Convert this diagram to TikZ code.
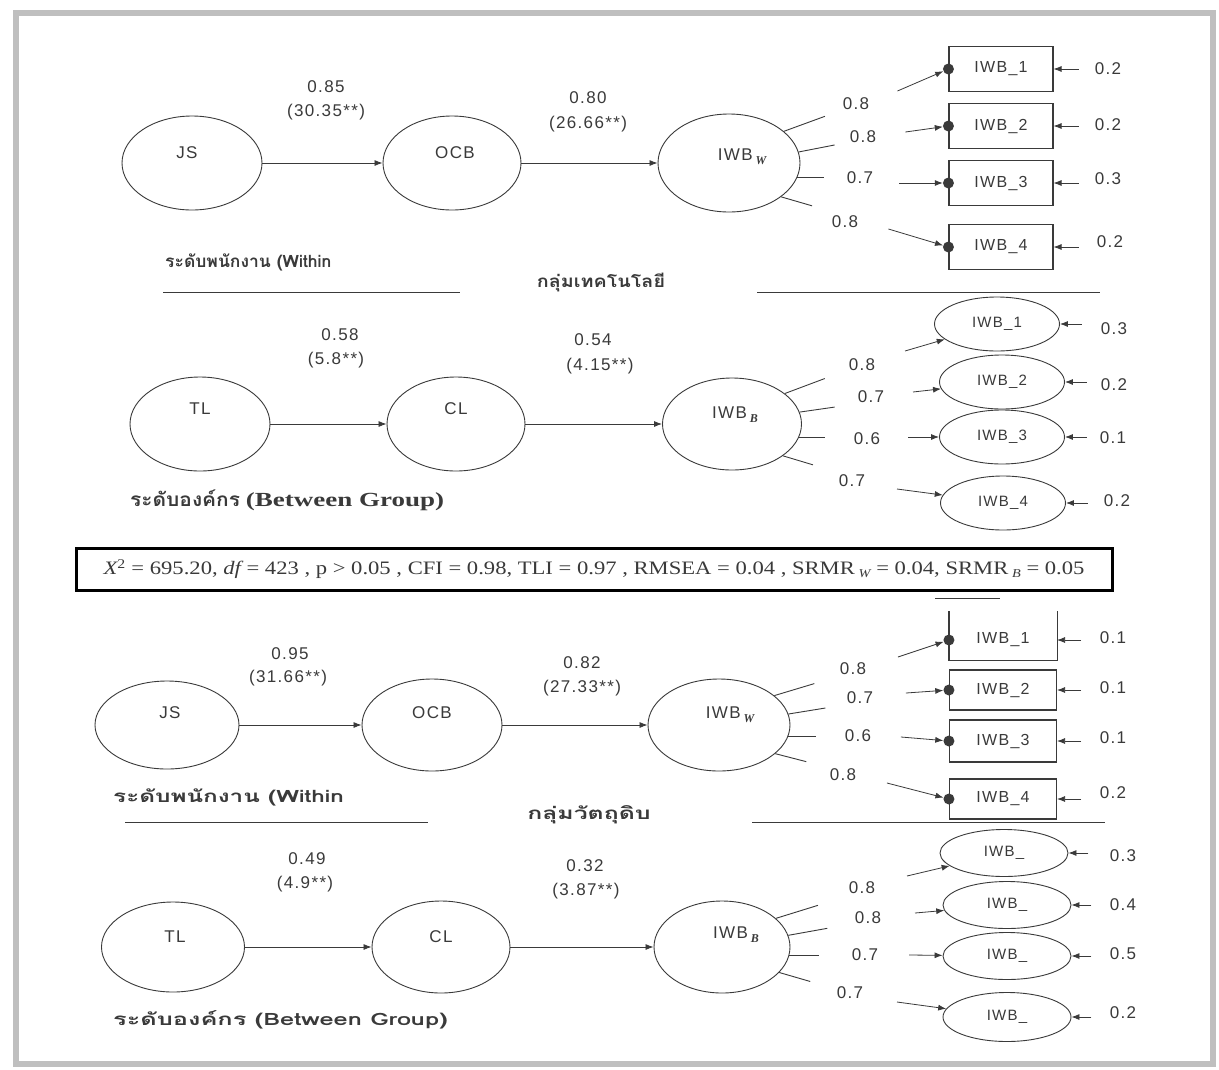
\documentclass[tikz,border=0pt]{standalone}
\usepackage{fontspec}
\setmainfont{Liberation Sans}
\newfontfamily\numf[LetterSpace=8]{Liberation Sans}
\newfontfamily\thai[Script=Thai]{Loma}
\newfontfamily\tnr{Liberation Serif}
\usetikzlibrary{shapes.geometric,arrows.meta}
\definecolor{ink}{HTML}{3A3A3A}
\newcommand{\subW}{\,\raisebox{-4pt}{\tnr\bfseries\itshape\fontsize{12}{12}\selectfont W}}
\newcommand{\subB}{\,\raisebox{-4pt}{\tnr\bfseries\itshape\fontsize{12}{12}\selectfont B}}
\begin{document}
\begin{tikzpicture}[x=1pt,y=-1pt,
  lat/.style={draw=ink, ellipse, line width=0.9pt, inner sep=0pt},
  ind/.style={draw=ink, rectangle, line width=1.1pt, minimum width=104pt, minimum height=45pt, inner sep=0pt, font=\numf\fontsize{16}{17}\selectfont, text=ink},
  oind/.style={draw=ink, ellipse, line width=0.9pt, inner sep=0pt, font=\numf\fontsize{15}{16}\selectfont, text=ink},
  dotn/.style={circle, fill=ink, minimum size=11pt, inner sep=0pt},
  arr/.style={draw=ink, -{Latex[length=8pt,width=6pt]}, line width=0.8pt},
  ln/.style={draw=ink, line width=0.9pt},
  num/.style={font=\numf\fontsize{17}{19}\selectfont, text=ink, inner sep=0pt},
  thl/.style={font=\thai\bfseries\fontsize{17}{19}\selectfont, text=ink, inner sep=0pt, anchor=west},
  grp/.style={font=\thai\bfseries\fontsize{17}{19}\selectfont, text=ink, inner sep=0pt}
]
\useasboundingbox (0,0) rectangle (1219,1069);
\fill[white] (0,0) rectangle (1219,1069);
\draw[gray!50, line width=6pt] (16,13) rectangle (1213,1064);

% ================= Panel 1 =================
\node[lat, minimum width=140pt, minimum height=94pt] (js1) at (192,163) {};
\node[lat, minimum width=138pt, minimum height=94pt] (ocb1) at (452,163) {};
\node[lat, minimum width=142pt, minimum height=98pt] (iw1) at (729,163) {};
\node[num] (tjs1) at (187,153) {JS};
\node[num] (tocb1) at (455,153) {OCB};
\node[num] (tiw1) at (742,157) {IWB\subW};
\draw[arr] (js1) -- (ocb1);
\draw[arr] (ocb1) -- (iw1);
\node[num] (p11a) at (326,87) {0.85};
\node[num] (p11b) at (326,112) {(30.35**)};
\node[num] (p12a) at (588,98) {0.80};
\node[num] (p12b) at (588,124) {(26.66**)};
\node[ind] (b11) at (1001,69) {IWB\_1};
\node[ind] (b12) at (1001,126) {IWB\_2};
\node[ind] (b13) at (1001,183) {IWB\_3};
\node[ind] (b14) at (1001,247) {IWB\_4};
\foreach \b in {1,2,3,4}{\node[dotn] (d1\b) at (b1\b.west) {};}
\draw[ln] (iw1.30) -- ++(41,-15);
\draw[ln] (iw1.9) -- ++(36,-7);
\draw[ln] (iw1.-12) -- ++(27,0);
\draw[ln] (iw1.-33) -- ++(31,9);
\node[num] (l11) at (856,104) {0.8};
\node[num] (l12) at (863,137) {0.8};
\node[num] (l13) at (860,178) {0.7};
\node[num] (l14) at (845,222) {0.8};
\draw[arr] (d11) ++(-51,22) -- (d11);
\draw[arr] (d12) ++(-43,6) -- (d12);
\draw[arr] (d13) ++(-49,0) -- (d13);
\draw[arr] (d14) ++(-60,-18) -- (d14);
\foreach \b in {1,2,3,4}{\draw[arr] (b1\b.east) ++(25,0) -- (b1\b.east);}
\node[num] (e11) at (1108,69) {0.2};
\node[num] (e12) at (1108,125) {0.2};
\node[num] (e13) at (1108,179) {0.3};
\node[num] (e14) at (1110,242) {0.2};
\node[thl] (w1) at (165,262) {\scalebox{1.03}[1]{ระดับพนักงาน (Within}};
\node[grp] (g1) at (601,283) {\scalebox{1.16}[1]{กลุ่มเทคโนโลยี}};
\draw[ln] (163,292) -- (460,292);
\draw[ln] (757,292) -- (1100,292);

% ================= Panel 2 =================
\node[lat, minimum width=140pt, minimum height=94pt] (tl2) at (200,424) {};
\node[lat, minimum width=138pt, minimum height=94pt] (cl2) at (456,424) {};
\node[lat, minimum width=139pt, minimum height=92pt] (iw2) at (732,424) {};
\node[num] (ttl2) at (200,409) {TL};
\node[num] (tcl2) at (456,409) {CL};
\node[num] (tiw2) at (735,415) {IWB\subB};
\draw[arr] (tl2) -- (cl2);
\draw[arr] (cl2) -- (iw2);
\node[num] (p21a) at (340,335) {0.58};
\node[num] (p21b) at (336,360) {(5.8**)};
\node[num] (p22a) at (593,340) {0.54};
\node[num] (p22b) at (600,366) {(4.15**)};
\node[oind, minimum width=125pt, minimum height=54pt] (o21) at (997,324) {IWB\_1};
\node[oind, minimum width=125pt, minimum height=54pt] (o22) at (1002,382) {IWB\_2};
\node[oind, minimum width=125pt, minimum height=54pt] (o23) at (1002,437) {IWB\_3};
\node[oind, minimum width=125pt, minimum height=54pt] (o24) at (1003,503) {IWB\_4};
\draw[ln] (iw2.30) -- ++(40,-15);
\draw[ln] (iw2.10) -- ++(35,-5);
\draw[ln] (iw2.-11) -- ++(26,0);
\draw[ln] (iw2.-32) -- ++(30,9);
\node[num] (l21) at (862,365) {0.8};
\node[num] (l22) at (871,397) {0.7};
\node[num] (l23) at (867,439) {0.6};
\node[num] (l24) at (852,481) {0.7};
\draw[arr] (o21) ++(-92,27) -- (o21);
\draw[arr] (o22) ++(-89,10) -- (o22);
\draw[arr] (o23) ++(-94,0) -- (o23);
\draw[arr] (o24) ++(-106,-14) -- (o24);
\foreach \b in {1,2,3,4}{\draw[arr] (o2\b.east) ++(22,0) -- (o2\b.east);}
\node[num] (e21) at (1114,329) {0.3};
\node[num] (e22) at (1114,385) {0.2};
\node[num] (e23) at (1113,438) {0.1};
\node[num] (e24) at (1117,501) {0.2};
\node[thl] (bg2) at (130,500) {\scalebox{1.1}[1]{\fontsize{19}{21}\selectfont ระดับองค์กร} \scalebox{1.35}[1]{\tnr\bfseries\fontsize{20}{22}\selectfont (Between Group)}};

% ================= Fit box =================
\node[draw=black, line width=3pt, minimum width=1036pt, minimum height=42pt, inner sep=0pt] (fit) at (594,569) {};
\node[font=\tnr\fontsize{19}{21}\selectfont, text=ink, inner sep=0pt] (fitt) at (fit) {\scalebox{1.19}[1]{{\itshape X}\textsuperscript{2} = 695.20, {\itshape df} = 423 , p > 0.05 , CFI = 0.98, TLI = 0.97 , RMSEA = 0.04 , SRMR\,\raisebox{-3pt}{\fontsize{12}{12}\selectfont\itshape W} = 0.04, SRMR\,\raisebox{-3pt}{\fontsize{12}{12}\selectfont\itshape B} = 0.05}};
\draw[ln] (935,598) -- (1000,598);

% ================= Panel 3 =================
\node[lat, minimum width=144pt, minimum height=88pt] (js3) at (167,725) {};
\node[lat, minimum width=140pt, minimum height=92pt] (ocb3) at (432,725) {};
\node[lat, minimum width=142pt, minimum height=92pt] (iw3) at (719,725) {};
\node[num] (tjs3) at (170,713) {JS};
\node[num] (tocb3) at (432,713) {OCB};
\node[num] (tiw3) at (730,715) {IWB\subW};
\draw[arr] (js3) -- (ocb3);
\draw[arr] (ocb3) -- (iw3);
\node[num] (p31a) at (290,654) {0.95};
\node[num] (p31b) at (288,678) {(31.66**)};
\node[num] (p32a) at (582,663) {0.82};
\node[num] (p32b) at (582,688) {(27.33**)};
\node[ind, draw=none, minimum width=107pt, minimum height=40pt] (b31) at (1003,640) {IWB\_1};
\draw[draw=ink, line width=1.1pt] ([yshift=8pt]b31.north west) -- (b31.south west) -- (b31.south east) -- ([yshift=8pt]b31.north east);
\node[ind, minimum width=107pt, minimum height=40pt] (b32) at (1003,690) {IWB\_2};
\node[ind, minimum width=107pt, minimum height=42pt] (b33) at (1003,741) {IWB\_3};
\node[ind, minimum width=107pt, minimum height=40pt] (b34) at (1003,799) {IWB\_4};
\foreach \b in {1,2,3,4}{\node[dotn] (d3\b) at (b3\b.west) {};}
\draw[ln] (iw3.28) -- ++(40,-12);
\draw[ln] (iw3.9) -- ++(37,-6);
\draw[ln] (iw3.-9) -- ++(28,0);
\draw[ln] (iw3.-27) -- ++(31,8);
\node[num] (l31) at (853,669) {0.8};
\node[num] (l32) at (860,698) {0.7};
\node[num] (l33) at (858,736) {0.6};
\node[num] (l34) at (843,775) {0.8};
\draw[arr] (d31) ++(-51,17) -- (d31);
\draw[arr] (d32) ++(-43,3) -- (d32);
\draw[arr] (d33) ++(-48,-4) -- (d33);
\draw[arr] (d34) ++(-62,-16) -- (d34);
\foreach \b in {1,2,3,4}{\draw[arr] (b3\b.east) ++(24,0) -- (b3\b.east);}
\node[num] (e31) at (1113,638) {0.1};
\node[num] (e32) at (1113,688) {0.1};
\node[num] (e33) at (1113,738) {0.1};
\node[num] (e34) at (1113,793) {0.2};
\node[thl] (w3) at (113,797) {\scalebox{1.43}[1]{ระดับพนักงาน (Within}};
\node[grp] (g3) at (589,815) {\scalebox{1.46}[1]{กลุ่มวัตถุดิบ}};
\draw[ln] (125,822) -- (428,822);
\draw[ln] (752,822) -- (1105,822);

% ================= Panel 4 =================
\node[lat, minimum width=143pt, minimum height=90pt] (tl4) at (173,947) {};
\node[lat, minimum width=138pt, minimum height=92pt] (cl4) at (441,947) {};
\node[lat, minimum width=136pt, minimum height=92pt] (iw4) at (722,947) {};
\node[num] (ttl4) at (175,937) {TL};
\node[num] (tcl4) at (441,937) {CL};
\node[num] (tiw4) at (736,935) {IWB\subB};
\draw[arr] (tl4) -- (cl4);
\draw[arr] (cl4) -- (iw4);
\node[num] (p41a) at (307,859) {0.49};
\node[num] (p41b) at (305,884) {(4.9**)};
\node[num] (p42a) at (585,866) {0.32};
\node[num] (p42b) at (586,891) {(3.87**)};
\node[oind, minimum width=128pt, minimum height=47pt] (o41) at (1004,853) {IWB\_};
\node[oind, minimum width=128pt, minimum height=47pt] (o42) at (1007,905) {IWB\_};
\node[oind, minimum width=128pt, minimum height=47pt] (o43) at (1007,956) {IWB\_};
\node[oind, minimum width=128pt, minimum height=49pt] (o44) at (1007,1017) {IWB\_};
\draw[ln] (iw4.28) -- ++(42,-13);
\draw[ln] (iw4.10) -- ++(39,-7);
\draw[ln] (iw4.-7) -- ++(30,0);
\draw[ln] (iw4.-24) -- ++(31,9);
\node[num] (l41) at (862,888) {0.8};
\node[num] (l42) at (868,918) {0.8};
\node[num] (l43) at (865,955) {0.7};
\node[num] (l44) at (850,993) {0.7};
\draw[arr] (o41) ++(-97,23) -- (o41);
\draw[arr] (o42) ++(-92,8) -- (o42);
\draw[arr] (o43) ++(-98,-1) -- (o43);
\draw[arr] (o44) ++(-110,-15) -- (o44);
\foreach \b in {1,2,3,4}{\draw[arr] (o4\b.east) ++(20,0) -- (o4\b.east);}
\node[num] (e41) at (1123,856) {0.3};
\node[num] (e42) at (1123,905) {0.4};
\node[num] (e43) at (1123,954) {0.5};
\node[num] (e44) at (1123,1013) {0.2};
\node[thl] (bg4) at (113,1020) {\scalebox{1.49}[1]{ระดับองค์กร (Between Group)}};
\end{tikzpicture}
\end{document}
